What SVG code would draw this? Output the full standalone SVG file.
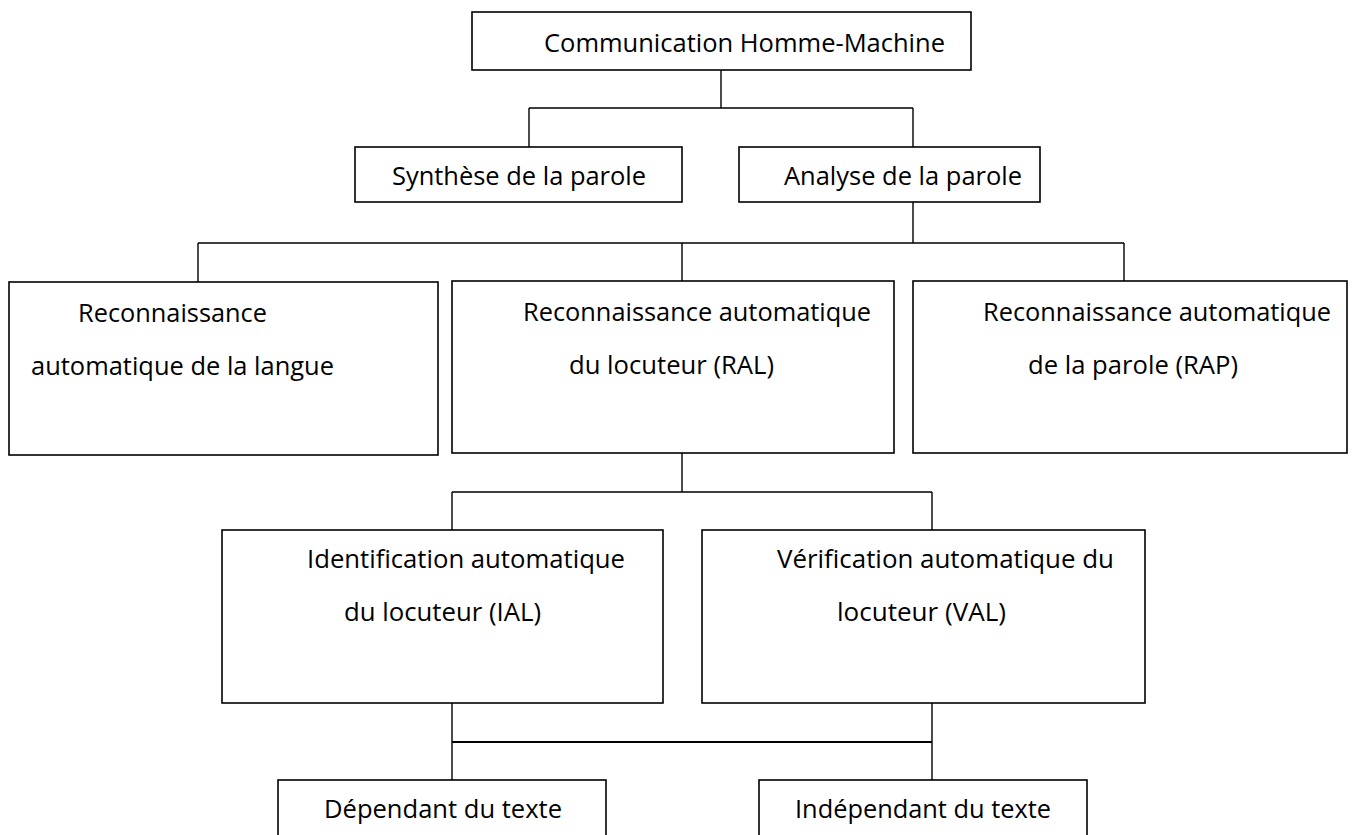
<svg xmlns="http://www.w3.org/2000/svg" width="1357" height="835" viewBox="0 0 1357 835">
<style>
.box{fill:#fff;stroke:#000;stroke-width:1.6}
.ln{fill:none;stroke:#000;stroke-width:1.4}
text{font-family:"Open Sans","Noto Sans","Liberation Sans",sans-serif;font-size:26px;fill:#000}
</style>
<rect width="1357" height="835" fill="#fff"/>
<g id="connectors">
<path class="ln" d="M721,70 V108 M529,108 H913 M529,108 V147 M913,108 V147"/>
<path class="ln" d="M913,202 V243 M198,243 H1124 M198,243 V282 M682,243 V281 M1124,243 V281"/>
<path class="ln" d="M682,453 V492 M452,492 H932 M452,492 V530 M932,492 V530"/>
<path class="ln" d="M452,703 V780 M932,703 V780"/>
<path class="ln" style="stroke-width:2" d="M452,742 H932"/>
</g>
<g id="n-chm"><rect class="box" x="472" y="12" width="499" height="58"/><text x="544" y="52" textLength="401" lengthAdjust="spacingAndGlyphs">Communication Homme-Machine</text></g>
<g id="n-synth"><rect class="box" x="355" y="147" width="327" height="55"/><text x="392" y="185" textLength="254" lengthAdjust="spacingAndGlyphs">Synthèse de la parole</text></g>
<g id="n-analyse"><rect class="box" x="739" y="147" width="301" height="55"/><text x="784" y="185" textLength="238" lengthAdjust="spacingAndGlyphs">Analyse de la parole</text></g>
<g id="n-ral-langue"><rect class="box" x="9" y="282" width="429" height="173"/><text x="78" y="322" textLength="189" lengthAdjust="spacingAndGlyphs">Reconnaissance</text><text x="31" y="375" textLength="303" lengthAdjust="spacingAndGlyphs">automatique de la langue</text></g>
<g id="n-ral"><rect class="box" x="452" y="281" width="442" height="172"/><text x="523" y="321" textLength="348" lengthAdjust="spacingAndGlyphs">Reconnaissance automatique</text><text x="569" y="374" textLength="205" lengthAdjust="spacingAndGlyphs">du locuteur (RAL)</text></g>
<g id="n-rap"><rect class="box" x="913" y="281" width="434" height="172"/><text x="983" y="321" textLength="348" lengthAdjust="spacingAndGlyphs">Reconnaissance automatique</text><text x="1028" y="374" textLength="210" lengthAdjust="spacingAndGlyphs">de la parole (RAP)</text></g>
<g id="n-ial"><rect class="box" x="222" y="530" width="441" height="173"/><text x="307" y="568" textLength="318" lengthAdjust="spacingAndGlyphs">Identification automatique</text><text x="344" y="621" textLength="197" lengthAdjust="spacingAndGlyphs">du locuteur (IAL)</text></g>
<g id="n-val"><rect class="box" x="702" y="530" width="443" height="173"/><text x="777" y="568" textLength="337" lengthAdjust="spacingAndGlyphs">Vérification automatique du</text><text x="837" y="621" textLength="169" lengthAdjust="spacingAndGlyphs">locuteur (VAL)</text></g>
<g id="n-dep"><rect class="box" x="278" y="780" width="328" height="70"/><text x="324" y="818" textLength="238" lengthAdjust="spacingAndGlyphs">Dépendant du texte</text></g>
<g id="n-indep"><rect class="box" x="759" y="780" width="328" height="70"/><text x="795" y="818" textLength="256" lengthAdjust="spacingAndGlyphs">Indépendant du texte</text></g>
</svg>
